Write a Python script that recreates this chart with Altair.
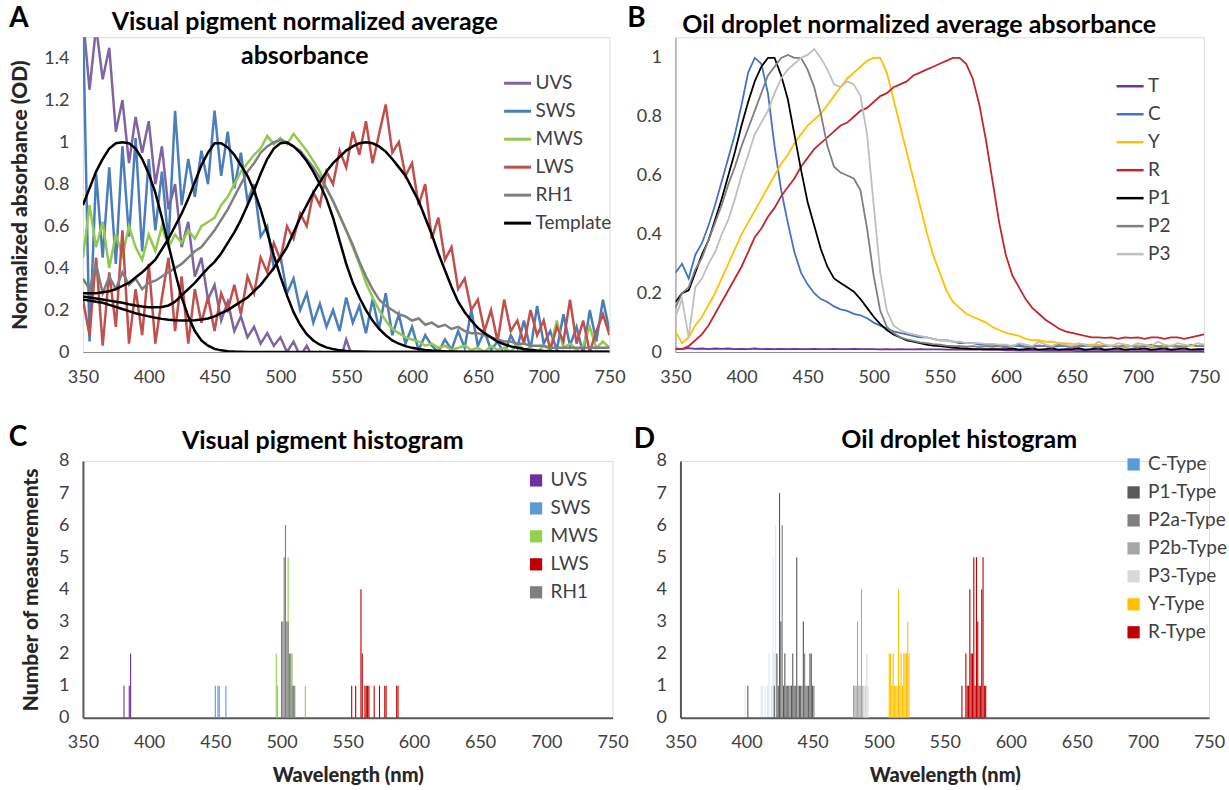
import altair as alt
import pandas as pd

wl = list(range(350, 755, 5))

# ---------- Panel A: visual pigment absorbance ----------
uvs = [1.60, 1.25, 1.55, 1.30, 1.45, 1.05, 1.20, 0.90, 1.12, 0.95,
       1.10, 0.80, 0.98, 0.68, 0.80, 0.50, 0.62, 0.36, 0.45, 0.25,
       0.32, 0.15, 0.24, 0.10, 0.17, 0.07, 0.12, 0.04, 0.09, 0.03,
       0.07, 0.00, 0.05, -0.02, 0.03, -0.03, 0.00, -0.04, -0.02, -0.05,
       0.06, -0.03, -0.05, -0.04, -0.06, -0.05, -0.03, -0.06, -0.05, -0.04,
       -0.05, -0.05, -0.05, -0.05, -0.05, -0.05, -0.05, -0.05, -0.05, -0.05,
       -0.05, -0.05, -0.05, -0.05, -0.05, -0.05, -0.05, -0.05, -0.05, -0.05,
       -0.05, -0.05, -0.05, -0.05, -0.05, -0.05, -0.05, -0.05, -0.05, -0.05,
       -0.05]
sws = [1.60, 0.05, 0.85, 0.45, 0.88, 0.42, 0.98, 0.55, 1.02, 0.48,
       0.92, 0.58, 0.86, 0.52, 1.15, 0.70, 0.92, 0.74, 0.96, 0.80,
       1.15, 0.84, 1.05, 0.78, 0.95, 0.72, 0.80, 0.55, 0.60, 0.40,
       0.46, 0.28, 0.35, 0.20, 0.28, 0.14, 0.23, 0.12, 0.20, 0.10,
       0.26, 0.14, 0.22, 0.09, 0.25, 0.11, 0.28, 0.08, 0.18, 0.04,
       0.12, 0.01, 0.08, 0.03, 0.00, 0.06, 0.01, 0.10, 0.02, 0.20,
       0.03, 0.10, 0.01, 0.05, -0.01, 0.08, 0.02, 0.15, 0.01, 0.22,
       0.04, 0.10, 0.01, 0.18, 0.03, 0.12, -0.01, 0.20, 0.05, 0.25,
       0.10]
mws = [0.45, 0.70, 0.50, 0.62, 0.40, 0.56, 0.46, 0.60, 0.50, 0.44,
       0.56, 0.48, 0.60, 0.50, 0.56, 0.52, 0.58, 0.54, 0.60, 0.62,
       0.64, 0.70, 0.74, 0.80, 0.86, 0.90, 0.94, 0.97, 1.03, 0.99,
       1.02, 0.99, 1.04, 1.00, 0.96, 0.91, 0.86, 0.78, 0.72, 0.65,
       0.58, 0.50, 0.42, 0.33, 0.26, 0.20, 0.15, 0.11, 0.09, 0.07,
       0.06, 0.05, 0.03, 0.04, 0.02, 0.03, 0.01, 0.02, 0.03, 0.01,
       0.02, 0.00, 0.03, 0.01, 0.02, 0.00, 0.04, 0.01, 0.02, 0.00,
       0.03, 0.01, 0.15, 0.02, 0.04, 0.01, 0.03, 0.12, 0.02, 0.05,
       0.02]
lws = [0.25, 0.08, 0.45, 0.03, 0.38, 0.12, 0.58, 0.04, 0.30, 0.08,
       0.42, 0.04, 0.26, 0.45, 0.10, 0.36, 0.04, 0.30, 0.14, 0.26,
       0.10, 0.28, 0.20, 0.32, 0.18, 0.36, 0.28, 0.45, 0.38, 0.52,
       0.44, 0.60, 0.54, 0.66, 0.60, 0.76, 0.70, 0.86, 0.80, 0.96,
       0.88, 1.05, 0.94, 1.10, 0.90, 1.04, 1.18, 0.95, 1.00, 0.84,
       0.90, 0.70, 0.80, 0.54, 0.64, 0.44, 0.50, 0.30, 0.35, 0.20,
       0.25, 0.10, 0.20, 0.05, 0.25, 0.10, 0.15, 0.04, 0.20, 0.08,
       0.15, 0.01, 0.12, 0.05, 0.25, 0.04, 0.15, 0.00, 0.10, 0.18,
       0.08]
rh1 = [0.35, 0.30, 0.42, 0.28, 0.36, 0.30, 0.38, 0.32, 0.35, 0.30,
       0.33, 0.34, 0.36, 0.38, 0.40, 0.42, 0.45, 0.48, 0.50, 0.54,
       0.58, 0.63, 0.68, 0.74, 0.80, 0.86, 0.90, 0.95, 0.98, 1.00,
       1.01, 1.00, 0.98, 0.96, 0.92, 0.88, 0.83, 0.78, 0.72, 0.65,
       0.58, 0.51, 0.43, 0.36, 0.30, 0.25, 0.22, 0.20, 0.18, 0.17,
       0.15, 0.16, 0.13, 0.14, 0.12, 0.13, 0.11, 0.12, 0.10, 0.09,
       0.09, 0.08, 0.07, 0.06, 0.05, 0.05, 0.04, 0.04, 0.03, 0.03,
       0.03, 0.02, 0.02, 0.02, 0.02, 0.02, 0.02, 0.02, 0.02, 0.02,
       0.02]
t_uvs = [0.70, 0.78, 0.86, 0.92, 0.97, 0.995, 1.00, 0.995, 0.97, 0.92,
         0.85, 0.76, 0.64, 0.51, 0.38, 0.26, 0.17, 0.10, 0.055, 0.03,
         0.015, 0.008, 0.004, 0.002, 0.001, 0, 0, 0, 0, 0] + [0] * 51
t_sws = [0.28, 0.28, 0.28, 0.285, 0.29, 0.30, 0.315, 0.33, 0.355, 0.38,
         0.41, 0.44, 0.49, 0.54, 0.60, 0.66, 0.73, 0.81, 0.89, 0.95,
         0.995, 0.995, 0.975, 0.94, 0.89, 0.84, 0.77, 0.68, 0.57, 0.46,
         0.36, 0.27, 0.19, 0.13, 0.085, 0.055, 0.035, 0.022, 0.014, 0.008,
         0.005, 0.003, 0.002, 0.001, 0, 0, 0, 0, 0, 0] + [0] * 31
t_mws = [0.265, 0.26, 0.255, 0.25, 0.245, 0.24, 0.235, 0.228, 0.222, 0.217,
         0.214, 0.213, 0.215, 0.222, 0.24, 0.27, 0.30, 0.33, 0.365, 0.40,
         0.43, 0.47, 0.52, 0.57, 0.63, 0.70, 0.77, 0.85, 0.92, 0.97,
         0.995, 0.998, 0.98, 0.95, 0.91, 0.86, 0.80, 0.73, 0.64, 0.53,
         0.42, 0.33, 0.26, 0.20, 0.15, 0.11, 0.08, 0.055, 0.04, 0.028,
         0.02, 0.014, 0.01, 0.007, 0.005, 0.003, 0.002, 0.001, 0, 0] + [0] * 21
t_lws = [0.25, 0.245, 0.24, 0.235, 0.225, 0.215, 0.205, 0.195, 0.185, 0.177,
         0.17, 0.163, 0.158, 0.154, 0.151, 0.15, 0.15, 0.151, 0.155, 0.16,
         0.17, 0.185, 0.20, 0.22, 0.24, 0.26, 0.29, 0.32, 0.36, 0.40,
         0.45, 0.50, 0.57, 0.64, 0.70, 0.76, 0.81, 0.86, 0.90, 0.93,
         0.96, 0.98, 0.995, 1.0, 0.995, 0.98, 0.955, 0.92, 0.88, 0.84,
         0.78, 0.72, 0.64, 0.56, 0.47, 0.39, 0.31, 0.24, 0.19, 0.15,
         0.115, 0.09, 0.07, 0.05, 0.037, 0.027, 0.02, 0.014, 0.01, 0.007,
         0.005, 0.003, 0.002, 0.001, 0, 0, 0, 0, 0, 0,
         0]

# ---------- Panel B: oil droplet absorbance ----------
od_t = [0.012, 0.010, 0.013, 0.011, 0.012, 0.010, 0.012, 0.011, 0.012, 0.010,
        0.011, 0.010, 0.012, 0.010, 0.011, 0.010, 0.011, 0.010, 0.011, 0.010,
        0.010, 0.011, 0.010, 0.010, 0.011, 0.010, 0.010, 0.011, 0.010, 0.010,
        0.010, 0.009, 0.010, 0.009, 0.010, 0.009, 0.009, 0.010, 0.009, 0.009,
        0.009, 0.008, 0.009, 0.008, 0.008, 0.009, 0.008, 0.007, 0.008, 0.007,
        0.006, 0.006, 0.005, 0.006, 0.005, 0.005, 0.004, 0.005, 0.004, 0.004,
        0.004, 0.003, 0.004, 0.003, 0.003, 0.004, 0.003, 0.003, 0.004, 0.003,
        0.003, 0.003, 0.004, 0.003, 0.003, 0.004, 0.003, 0.003, 0.003, 0.004,
        0.003]
od_c = [0.27, 0.30, 0.25, 0.33, 0.37, 0.43, 0.50, 0.58, 0.66, 0.74,
        0.84, 0.95, 1.00, 0.98, 0.88, 0.70, 0.55, 0.44, 0.34, 0.27,
        0.23, 0.20, 0.18, 0.17, 0.155, 0.145, 0.14, 0.13, 0.125, 0.115,
        0.10, 0.09, 0.08, 0.07, 0.065, 0.06, 0.055, 0.05, 0.05, 0.045,
        0.04, 0.04, 0.035, 0.03, 0.03, 0.03, 0.025, 0.025, 0.025, 0.02,
        0.02, 0.022, 0.02, 0.018, 0.02, 0.022, 0.02, 0.018, 0.02, 0.022,
        0.02, 0.018, 0.022, 0.02, 0.018, 0.02, 0.022, 0.02, 0.018, 0.02,
        0.022, 0.02, 0.018, 0.02, 0.022, 0.02, 0.018, 0.02, 0.022, 0.02,
        0.025]
od_y = [0.07, 0.03, 0.05, 0.09, 0.12, 0.16, 0.20, 0.25, 0.30, 0.35,
        0.40, 0.44, 0.48, 0.52, 0.56, 0.60, 0.64, 0.67, 0.71, 0.74,
        0.77, 0.79, 0.81, 0.84, 0.87, 0.90, 0.93, 0.95, 0.97, 0.99,
        1.00, 1.00, 0.95, 0.86, 0.77, 0.68, 0.59, 0.50, 0.41, 0.33,
        0.27, 0.21, 0.17, 0.15, 0.13, 0.12, 0.11, 0.10, 0.085, 0.075,
        0.065, 0.06, 0.055, 0.045, 0.04, 0.04, 0.035, 0.035, 0.03, 0.03,
        0.028, 0.027, 0.025, 0.025, 0.024, 0.022, 0.022, 0.02, 0.022, 0.02,
        0.02, 0.022, 0.02, 0.018, 0.02, 0.022, 0.02, 0.018, 0.02, 0.02,
        0.02]
od_r = [0.01, 0.01, 0.02, 0.04, 0.06, 0.09, 0.13, 0.17, 0.21, 0.25,
        0.29, 0.34, 0.39, 0.42, 0.46, 0.49, 0.53, 0.56, 0.59, 0.63,
        0.66, 0.69, 0.71, 0.73, 0.75, 0.77, 0.78, 0.80, 0.82, 0.83,
        0.85, 0.87, 0.88, 0.90, 0.91, 0.92, 0.94, 0.95, 0.96, 0.97,
        0.98, 0.99, 1.00, 1.00, 0.98, 0.93, 0.84, 0.72, 0.58, 0.44,
        0.33, 0.26, 0.22, 0.18, 0.15, 0.13, 0.11, 0.095, 0.08, 0.07,
        0.065, 0.06, 0.055, 0.05, 0.05, 0.048, 0.05, 0.045, 0.05, 0.048,
        0.05, 0.045, 0.05, 0.05, 0.045, 0.05, 0.05, 0.045, 0.05, 0.055,
        0.06]
od_p1 = [0.17, 0.20, 0.21, 0.27, 0.33, 0.38, 0.45, 0.52, 0.60, 0.68,
         0.77, 0.85, 0.92, 0.97, 1.00, 1.00, 0.94, 0.86, 0.74, 0.62,
         0.51, 0.43, 0.35, 0.29, 0.25, 0.235, 0.22, 0.205, 0.18, 0.15,
         0.12, 0.095, 0.075, 0.06, 0.05, 0.04, 0.035, 0.03, 0.025, 0.022,
         0.02, 0.018, 0.015, 0.013, 0.012, 0.01, 0.01, 0.01, 0.01, 0.01,
         0.01, 0.012, 0.008, 0.01, 0.012, 0.008, 0.01, 0.012, 0.008, 0.01,
         0.01, 0.012, 0.008, 0.01, 0.012, 0.008, 0.01, 0.012, 0.008, 0.01,
         0.01, 0.012, 0.008, 0.01, 0.012, 0.008, 0.01, 0.012, 0.008, 0.01,
         0.01]
od_p2 = [0.15, 0.20, 0.22, 0.28, 0.32, 0.38, 0.44, 0.50, 0.57, 0.63,
         0.70, 0.76, 0.82, 0.88, 0.94, 0.97, 1.00, 1.01, 1.00, 1.00,
         0.96, 0.90, 0.81, 0.70, 0.63, 0.61, 0.60, 0.59, 0.55, 0.42,
         0.26, 0.14, 0.085, 0.065, 0.05, 0.043, 0.038, 0.033, 0.03, 0.027,
         0.025, 0.022, 0.02, 0.02, 0.018, 0.02, 0.017, 0.02, 0.018, 0.02,
         0.015, 0.02, 0.025, 0.018, 0.015, 0.022, 0.02, 0.015, 0.025, 0.02,
         0.015, 0.02, 0.025, 0.018, 0.015, 0.022, 0.02, 0.015, 0.025, 0.02,
         0.015, 0.02, 0.025, 0.018, 0.015, 0.022, 0.02, 0.015, 0.025, 0.02,
         0.02]
od_p3 = [0.12, 0.18, 0.05, 0.22, 0.25, 0.30, 0.34, 0.40, 0.45, 0.52,
         0.60, 0.67, 0.74, 0.78, 0.82, 0.88, 0.93, 0.96, 0.98, 1.00,
         1.01, 1.03, 1.00, 0.96, 0.91, 0.90, 0.92, 0.91, 0.87, 0.74,
         0.50, 0.27, 0.14, 0.09, 0.075, 0.065, 0.06, 0.055, 0.05, 0.045,
         0.04, 0.04, 0.035, 0.035, 0.03, 0.03, 0.03, 0.028, 0.028, 0.025,
         0.025, 0.02, 0.03, 0.025, 0.02, 0.035, 0.025, 0.02, 0.03, 0.025,
         0.02, 0.03, 0.025, 0.02, 0.035, 0.025, 0.02, 0.03, 0.025, 0.02,
         0.03, 0.025, 0.02, 0.035, 0.025, 0.02, 0.03, 0.025, 0.02, 0.03,
         0.025]

# ---------- Panel C: visual pigment histogram (nm, count) ----------
vp_hist = {
    "UVS": [[381, 1], [385, 1], [386, 2]],
    "SWS": [[450, 1], [452, 1], [453, 1], [458, 1]],
    "MWS": [[496, 2], [497, 1], [505, 5], [508, 2], [518, 1]],
    "LWS": [[553, 1], [556, 1], [560, 4], [561, 2], [563, 1], [564, 1], [565, 1],
            [566, 1], [570, 1], [574, 1], [578, 1], [579, 1], [587, 1], [588, 1]],
    "RH1": [[500, 3], [501, 3], [502, 5], [503, 6], [504, 3], [505, 3], [506, 2],
            [507, 2], [508, 1], [509, 1], [510, 1]],
}

# ---------- Panel D: oil droplet histogram (nm, count) ----------
od_hist = {
    "C-Type": [[399, 1], [411, 1], [412, 1], [414, 1], [416, 1], [417, 2], [419, 1],
               [420, 5], [421, 2], [422, 6]],
    "P1-Type": [[401, 1], [421, 1], [423, 2], [424, 1], [425, 7], [426, 3], [428, 1],
                [429, 2], [430, 1], [432, 1], [434, 1], [435, 2], [436, 1], [438, 5],
                [440, 1], [441, 1], [443, 3], [445, 1], [447, 1], [448, 2], [449, 2],
                [450, 1]],
    "P2a-Type": [[427, 6], [431, 1], [433, 1], [437, 1], [439, 1], [442, 1], [444, 2],
                 [446, 1], [451, 1]],
    "P2b-Type": [[481, 1], [482, 1], [483, 1], [484, 3], [485, 1], [486, 1], [487, 4],
                 [488, 1]],
    "P3-Type": [[489, 1], [490, 1], [491, 2], [492, 1]],
    "Y-Type": [[508, 2], [509, 2], [510, 1], [511, 2], [512, 1], [513, 1], [514, 1],
               [515, 4], [516, 1], [517, 2], [518, 1], [519, 2], [520, 2], [521, 2],
               [522, 3], [523, 2]],
    "R-Type": [[563, 1], [566, 2], [567, 1], [568, 1], [569, 4], [570, 2], [571, 2],
               [572, 5], [573, 1], [574, 5], [575, 3], [576, 1], [577, 1], [578, 4],
               [579, 5], [580, 1], [581, 1]],
}

titleA = ["Visual pigment normalized average", "absorbance"]
titleB = "Oil droplet normalized average absorbance"
titleC = "Visual pigment histogram"
titleD = "Oil droplet histogram"

FONT = "Lato"
TXT = "#404040"
LBL = 18
LEG = 19
x_ticks = list(range(350, 751, 50))

# ----- build frames -----
rowsA = []
for name, vals in [("UVS", uvs), ("SWS", sws), ("MWS", mws), ("LWS", lws), ("RH1", rh1)]:
    for w, v in zip(wl, vals):
        rowsA.append({"wl": w, "v": v, "s": name, "line": name})
for name, vals in [("tUVS", t_uvs), ("tSWS", t_sws), ("tMWS", t_mws), ("tLWS", t_lws)]:
    for w, v in zip(wl, vals):
        rowsA.append({"wl": w, "v": v, "s": "Template", "line": name})
dfA = pd.DataFrame(rowsA)

rowsB = []
for name, vals in [("T", od_t), ("C", od_c), ("Y", od_y), ("R", od_r),
                   ("P1", od_p1), ("P2", od_p2), ("P3", od_p3)]:
    for w, v in zip(wl, vals):
        rowsB.append({"wl": w, "v": v, "o": name})
dfB = pd.DataFrame(rowsB)

rowsC = []
for name, pairs in vp_hist.items():
    for nm, n in pairs:
        rowsC.append({"nm": nm, "n": n, "vp": name})
dfC = pd.DataFrame(rowsC)

rowsD = []
for name, pairs in od_hist.items():
    for nm, n in pairs:
        rowsD.append({"nm": nm, "n": n, "od": name})
dfD = pd.DataFrame(rowsD)


def xaxis(title=None, dom="#8c8c8c", dw=1):
    kw = dict(values=x_ticks, labelFontSize=LBL, labelFont=FONT, labelColor=TXT,
              ticks=False, grid=False, labelPadding=16, labelFlush=False,
              domainColor=dom, domainWidth=dw)
    if title:
        kw.update(title=title, titleFontSize=20, titleFont=FONT, titleFontWeight=900,
                  titleColor="#262626", titlePadding=14)
    else:
        kw.update(title=None)
    return alt.Axis(**kw)


def text_at(t, dx, dy, size, color="#000", weight="bold"):
    return alt.Chart(pd.DataFrame({"t": [t]})).mark_text(
        font=FONT, fontSize=size, fontWeight=weight, color=color, align="center",
        baseline="middle"
    ).encode(text="t:N", x=alt.value(dx), y=alt.value(dy))


# ---------- Panel A chart ----------
xA = alt.X("wl:Q", scale=alt.Scale(domain=[350, 750], nice=False), axis=xaxis())
yA = alt.Y("v:Q", scale=alt.Scale(domain=[0, 1.5], nice=False),
           axis=alt.Axis(values=[0, 0.2, 0.4, 0.6, 0.8, 1, 1.2, 1.4], format="~g",
                         title="Normalized absorbance (OD)", titleFontSize=21, titleFont=FONT,
                         titleFontWeight=900, titleColor="#262626", titlePadding=13,
                         labelFontSize=LBL, labelFont=FONT, labelColor=TXT, ticks=False,
                         grid=False, labelPadding=14, domain=False))
colA = alt.Color("s:N", scale=alt.Scale(domain=["UVS", "SWS", "MWS", "LWS", "RH1", "Template"],
                                         range=["#8064a2", "#4a7ebb", "#92c950", "#c0504d", "#7f7f7f", "#000000"]),
                 legend=alt.Legend(title=None, orient="none", legendX=420, legendY=31,
                                   symbolType="stroke", symbolSize=729, symbolStrokeWidth=3,
                                   labelFontSize=LEG, labelFont=FONT, labelColor=TXT,
                                   rowPadding=3, labelOffset=3))
layersA = []
for name in ["UVS", "SWS", "MWS", "LWS", "RH1"]:
    layersA.append(alt.Chart(dfA).transform_filter(alt.datum.s == name)
                   .mark_line(strokeWidth=2.5, clip=True)
                   .encode(x=xA, y=yA, color=colA, detail="line:N"))
layersA.append(alt.Chart(dfA).transform_filter(alt.datum.s == "Template")
               .mark_line(strokeWidth=2.5, clip=True)
               .encode(x=xA, y=yA, color=colA, detail="line:N"))
layersA += [text_at("A", -64, -18, 28),
            text_at(titleA[0], 222, -15, 25),
            text_at(titleA[1], 222, 19, 25)]
chartA = alt.layer(*layersA).properties(width=527, height=315)

# ---------- Panel B chart ----------
xB = alt.X("wl:Q", scale=alt.Scale(domain=[350, 750], nice=False), axis=xaxis())
yB = alt.Y("v:Q", scale=alt.Scale(domain=[0, 1.07], nice=False),
           axis=alt.Axis(values=[0, 0.2, 0.4, 0.6, 0.8, 1], format="~g", title=None,
                         labelFontSize=LBL, labelFont=FONT, labelColor=TXT, ticks=False,
                         grid=False, labelPadding=14, domainColor="#8c8c8c"))
colB = alt.Color("o:N", scale=alt.Scale(domain=["T", "C", "Y", "R", "P1", "P2", "P3"],
                                         range=["#7030a0", "#4472c4", "#ffc000", "#c0282d",
                                                "#000000", "#7f7f7f", "#bfbfbf"]),
                 sort=["T", "C", "Y", "R", "P1", "P2", "P3"],
                 legend=alt.Legend(title=None, orient="none", legendX=440, legendY=34,
                                   symbolType="stroke", symbolSize=729, symbolStrokeWidth=2.5,
                                   labelFontSize=LEG, labelFont=FONT, labelColor=TXT,
                                   rowPadding=3, labelOffset=3))
lineB = alt.Chart(dfB).mark_line(strokeWidth=1.8, clip=True).encode(x=xB, y=yB, color=colB)
chartB = alt.layer(lineB, text_at("B", -39, -18, 28),
                   text_at(titleB, 244, -12, 25)).properties(width=529, height=315)


# ---------- Panel C chart ----------
def hist_axes(ytitle):
    xH = alt.X("x0:Q", scale=alt.Scale(domain=[350, 750], nice=False),
               axis=xaxis("Wavelength (nm)", dom="#595959", dw=2))
    ykw = dict(values=list(range(0, 9)), labelFontSize=LBL, labelFont=FONT, labelColor=TXT,
               ticks=False, grid=False, labelPadding=14, domainColor="#595959", domainWidth=2)
    if ytitle:
        ykw.update(title=ytitle, titleFontSize=21, titleFont=FONT, titleFontWeight=900,
                   titleColor="#262626", titlePadding=17)
    else:
        ykw.update(title=None)
    yH = alt.Y("n:Q", scale=alt.Scale(domain=[0, 8], nice=False), axis=alt.Axis(**ykw))
    return xH, yH


xC, yC = hist_axes("Number of measurements")
colC = alt.Color("vp:N", scale=alt.Scale(domain=["UVS", "SWS", "MWS", "LWS", "RH1"],
                                          range=["#7030a0", "#5b9bd5", "#92d050", "#c00000", "#7f7f7f"]),
                 legend=alt.Legend(title=None, orient="none", legendX=444, legendY=10,
                                   symbolType="square", symbolSize=150, symbolStrokeWidth=0,
                                   labelFontSize=LEG, labelFont=FONT, labelColor=TXT,
                                   rowPadding=8, labelOffset=5))
barsC = alt.Chart(dfC).transform_calculate(
    x0="datum.nm - 0.42", x1="datum.nm + 0.42"
).mark_bar(strokeWidth=0).encode(x=xC, x2="x1:Q", y=yC, y2=alt.datum(0), color=colC)
chartC = alt.layer(barsC, text_at("C", -65, -23, 28),
                   text_at(titleC, 240, -20, 25)).properties(width=530, height=257)

# ---------- Panel D chart ----------
xD, yD = hist_axes(None)
dtypes = ["C-Type", "P1-Type", "P2a-Type", "P2b-Type", "P3-Type", "Y-Type", "R-Type"]
colD = alt.Color("od:N", scale=alt.Scale(domain=dtypes,
                                          range=["#5b9bd5", "#595959", "#7f7f7f", "#a6a6a6",
                                                 "#d9d9d9", "#ffc000", "#c00000"]),
                 sort=dtypes,
                 legend=alt.Legend(title=None, orient="none", legendX=444, legendY=-6,
                                   symbolType="square", symbolSize=150, symbolStrokeWidth=0,
                                   symbolOpacity=1, labelFontSize=LEG, labelFont=FONT,
                                   labelColor=TXT, rowPadding=8, labelOffset=5))
barsD = alt.Chart(dfD).transform_calculate(
    x0="datum.nm - 0.42", x1="datum.nm + 0.42"
).mark_bar(strokeWidth=0).encode(
    x=xD, x2="x1:Q", y=yD, y2=alt.datum(0), color=colD,
    opacity=alt.condition(alt.datum.od == "C-Type", alt.value(0.22), alt.value(1.0)))
chartD = alt.layer(barsD, text_at("D", -36, -21, 28),
                   text_at(titleD, 279, -21, 25)).properties(width=529, height=257)

top = alt.hconcat(chartA, chartB, spacing=0).resolve_scale(color="independent", x="independent", y="independent")
bottom = alt.hconcat(chartC, chartD, spacing=3).resolve_scale(color="independent", x="independent", y="independent")
chart = alt.vconcat(top, bottom, spacing=36).resolve_scale(color="independent", x="independent",
                                                            y="independent").properties(
    padding={"left": 8, "top": 4, "right": 0, "bottom": 0}
).configure_view(stroke=None).configure(background="#ffffff")

chart.save("out.html", embed_options={"renderer": "svg", "actions": False})
